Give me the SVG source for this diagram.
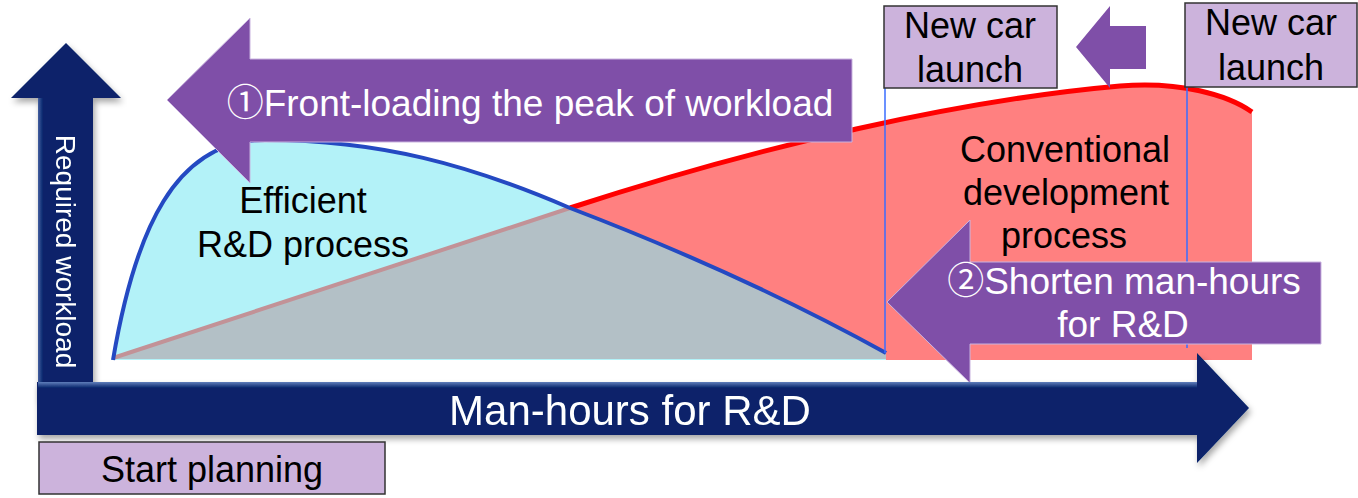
<svg xmlns="http://www.w3.org/2000/svg" width="1358" height="498" viewBox="0 0 1358 498">
<style>
text{font-family:"Liberation Sans",Arial,"DejaVu Sans",sans-serif}
.blk{fill:#000;font-size:36px;text-anchor:middle}
.wht{fill:#fff;text-anchor:middle}
.num{font-family:"Noto Sans CJK JP","DejaVu Sans",sans-serif}
.box{fill:#ccb3dc;stroke:#333;stroke-width:1.5}
.purple{fill:#7f4fa8;stroke:#c9b3df;stroke-width:1}
.vline{stroke:#3a6cff;stroke-width:1.5;fill:none}
.navy{fill:#07246a}
</style>
<defs>
<linearGradient id="hl" x1="0" y1="0" x2="0" y2="1">
<stop offset="0" stop-color="#6a88c4" stop-opacity="0.9"/><stop offset="1" stop-color="#6a88c4" stop-opacity="0"/>
</linearGradient>
<linearGradient id="hlv" x1="0" y1="0" x2="1" y2="0">
<stop offset="0" stop-color="#6a88c4" stop-opacity="0.6"/><stop offset="1" stop-color="#6a88c4" stop-opacity="0"/>
</linearGradient>
<filter id="sh" x="-5%" y="-20%" width="110%" height="150%">
<feDropShadow dx="2" dy="4" stdDeviation="3" flood-color="#000" flood-opacity="0.35"/>
</filter>
</defs>

<g id="conventional-area">
<path d="M113,358 L570,208 C760,146 960,100 1120,86 C1180,81 1228,95 1252,112 L1252,360 L113,360 Z" fill="#ff8080"/>
<path d="M570,208 C760,146 960,100 1120,86 C1180,81 1228,95 1252,112" fill="none" stroke="#ff0000" stroke-width="5"/>
</g>
<g id="efficient-area">
<path d="M113,360 C135,230 175,140 265,140 C380,140 470,165 570,208 C680,250 790,300 886,353 L886,360 Z" fill="#b3f2f8"/>
<path d="M113,359 L570,208 C680,250 790,300 886,353 L886,359 Z" fill="#b3c0c6"/>
<path d="M113,358 L570,208" stroke="#c29297" stroke-width="4" fill="none"/>
<path d="M113,360 C135,230 175,140 265,140 C380,140 470,165 570,208 C680,250 790,300 886,353" fill="none" stroke="#2449c2" stroke-width="4"/>
</g>

<g id="launch-lines">
<line class="vline" x1="885" y1="88" x2="885" y2="353"/>
<line class="vline" x1="1187" y1="87" x2="1187" y2="348"/>
</g>

<g id="label-efficient">
<text class="blk" x="303" y="213">Efficient</text>
<text class="blk" x="303" y="257">R&amp;D process</text>
</g>
<g id="label-conventional">
<text class="blk" x="1065" y="162">Conventional</text>
<text class="blk" x="1066" y="205">development</text>
<text class="blk" x="1064" y="248">process</text>
</g>

<g id="arrow-frontload">
<path class="purple" d="M167,100 L250,18 L250,59 L852,59 L852,142 L250,142 L250,183 Z"/>
<text class="wht" x="530" y="116" font-size="37"><tspan class="num">①</tspan>Front-loading the peak of workload</text>
</g>
<g id="arrow-shorten">
<path class="purple" d="M887,302 L970,220 L970,262 L1321,262 L1321,344 L970,344 L970,383 Z"/>
<text class="wht" x="1124" y="294" font-size="37"><tspan class="num">②</tspan>Shorten man-hours</text>
<text class="wht" x="1123" y="337" font-size="37">for R&amp;D</text>
</g>
<g id="arrow-small">
<path d="M1076,47 L1110,6 L1110,26 L1146,26 L1146,69 L1110,69 L1110,88 Z" fill="#7f4fa8"/>
</g>

<g id="axis-y" filter="url(#sh)">
<path class="navy" d="M66,43 L121,98 L93,98 L93,400 L38,400 L38,98 L11,98 Z"/>
<rect x="38" y="98" width="5" height="284" fill="url(#hlv)"/>
<text class="wht" font-size="28" transform="translate(56,251.5) rotate(90)">Required workload</text>
</g>
<g id="axis-x" filter="url(#sh)">
<path class="navy" d="M37,382 L1197,382 L1197,353 L1249,408 L1197,463 L1197,435 L37,435 Z"/>
<rect x="38" y="382" width="1159" height="6" fill="url(#hl)"/>
<text class="wht" x="630" y="425" font-size="42">Man-hours for R&amp;D</text>
</g>

<g id="box-start">
<rect class="box" x="39" y="442" width="346" height="52"/>
<text class="blk" x="212" y="482">Start planning</text>
</g>
<g id="box-launch-new">
<rect class="box" x="884" y="6" width="173" height="82"/>
<text class="blk" x="970" y="38">New car</text>
<text class="blk" x="970" y="82">launch</text>
</g>
<g id="box-launch-old">
<rect class="box" x="1185" y="3" width="172" height="84"/>
<text class="blk" x="1271" y="35">New car</text>
<text class="blk" x="1271" y="80">launch</text>
</g>
</svg>
